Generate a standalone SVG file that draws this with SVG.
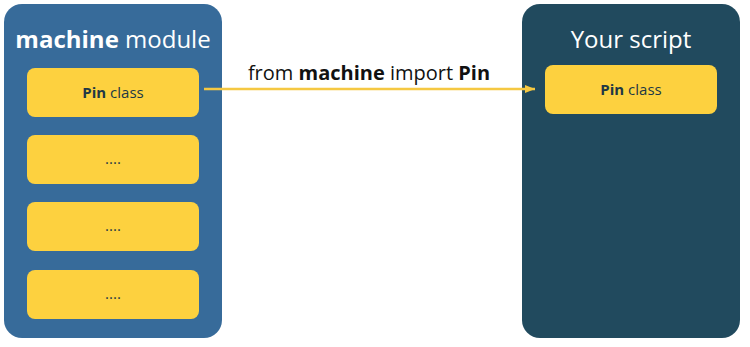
<svg xmlns="http://www.w3.org/2000/svg" width="750" height="347" viewBox="0 0 750 347">
<defs>
<style>
.panel-l{fill:#376B9A}
.panel-r{fill:#214A5E}
.box{fill:#FDD13F}
.title{font-family:"Open Sans",sans-serif;font-size:24px;fill:#FFFFFF;text-anchor:middle}
.lbl{font-family:"Open Sans",sans-serif;font-size:15px;fill:#213845;text-anchor:middle}
.edge{font-family:"Open Sans",sans-serif;font-size:20px;fill:#111111;text-anchor:middle}
.b{font-weight:bold}
</style>
<marker id="ah" viewBox="0 0 10 10" refX="10" refY="5" markerWidth="10" markerHeight="10" markerUnits="userSpaceOnUse" orient="auto">
<path d="M0,1 L10,5 L0,9 Z" fill="#F5C842"/>
</marker>
</defs>
<rect width="750" height="347" fill="#FFFFFF"/>
<g id="machine-module">
<rect class="panel-l" x="4" y="4" width="218" height="334" rx="18"/>
<text class="title" x="113" y="48"><tspan class="b">machine</tspan> module</text>
</g>
<g id="pin-class-left">
<rect class="box" x="27" y="68" width="172" height="49" rx="8"/>
<text class="lbl" x="113" y="98"><tspan class="b">Pin</tspan> class</text>
</g>
<g id="dots-1">
<rect class="box" x="27" y="135" width="172" height="49" rx="8"/>
<text class="lbl" x="113" y="164">....</text>
</g>
<g id="dots-2">
<rect class="box" x="27" y="202" width="172" height="49" rx="8"/>
<text class="lbl" x="113" y="231">....</text>
</g>
<g id="dots-3">
<rect class="box" x="27" y="270" width="172" height="49" rx="8"/>
<text class="lbl" x="113" y="299">....</text>
</g>
<g id="your-script">
<rect class="panel-r" x="522" y="4" width="218" height="334" rx="18"/>
<text class="title" x="631" y="48">Your script</text>
</g>
<g id="pin-class-right">
<rect class="box" x="545" y="65" width="172" height="49" rx="8"/>
<text class="lbl" x="631" y="95"><tspan class="b">Pin</tspan> class</text>
</g>
<g id="connectors">
<line x1="204" y1="89" x2="535" y2="89" stroke="#F5C842" stroke-width="2.5" marker-end="url(#ah)"/>
<text class="edge" x="369" y="80">from <tspan class="b">machine</tspan> import <tspan class="b">Pin</tspan></text>
</g>
</svg>
